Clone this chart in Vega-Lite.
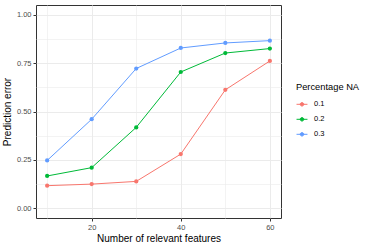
{
  "$schema": "https://vega.github.io/schema/vega-lite/v6.json",
  "width": 245,
  "height": 213,
  "autosize": "none",
  "padding": {"left": 36, "top": 5, "right": 87, "bottom": 28},
  "background": "white",
  "config": {
    "font": "Liberation Sans",
    "view": {"stroke": "#333333", "strokeWidth": 1},
    "axis": {
      "domain": false,
      "gridColor": "#ebebeb",
      "tickColor": "#333333",
      "tickSize": 3,
      "labelColor": "#4d4d4d",
      "labelFontSize": 7.5,
      "titleFontSize": 10,
      "titleFontWeight": "normal",
      "titleColor": "#000000"
    }
  },
  "data": {
    "values": [
      {"n": 10, "err": 0.117, "pct": "0.1"},
      {"n": 20, "err": 0.125, "pct": "0.1"},
      {"n": 30, "err": 0.139, "pct": "0.1"},
      {"n": 40, "err": 0.280, "pct": "0.1"},
      {"n": 50, "err": 0.612, "pct": "0.1"},
      {"n": 60, "err": 0.761, "pct": "0.1"},
      {"n": 10, "err": 0.167, "pct": "0.2"},
      {"n": 20, "err": 0.210, "pct": "0.2"},
      {"n": 30, "err": 0.418, "pct": "0.2"},
      {"n": 40, "err": 0.704, "pct": "0.2"},
      {"n": 50, "err": 0.802, "pct": "0.2"},
      {"n": 60, "err": 0.825, "pct": "0.2"},
      {"n": 10, "err": 0.247, "pct": "0.3"},
      {"n": 20, "err": 0.460, "pct": "0.3"},
      {"n": 30, "err": 0.722, "pct": "0.3"},
      {"n": 40, "err": 0.828, "pct": "0.3"},
      {"n": 50, "err": 0.854, "pct": "0.3"},
      {"n": 60, "err": 0.866, "pct": "0.3"}
    ]
  },
  "encoding": {
    "x": {
      "field": "n", "type": "quantitative",
      "scale": {"domain": [7.5, 62.5], "nice": false, "zero": false},
      "axis": {
        "values": [10, 20, 30, 40, 50, 60],
        "labelExpr": "datum.value % 20 == 0 ? datum.label : ''",
        "tickOpacity": {"condition": {"test": "datum.value % 20 == 0", "value": 1}, "value": 0},
        "gridWidth": {"condition": {"test": "datum.value % 20 == 0", "value": 1}, "value": 0.6},
        "title": "Number of relevant features",
        "titlePadding": 3,
        "labelPadding": 2
      }
    },
    "y": {
      "field": "err", "type": "quantitative",
      "scale": {"domain": [-0.05, 1.05], "nice": false, "zero": false},
      "axis": {
        "values": [0, 0.125, 0.25, 0.375, 0.5, 0.625, 0.75, 0.875, 1],
        "format": ".2f",
        "labelExpr": "(datum.value * 4) % 1 == 0 ? datum.label : ''",
        "tickOpacity": {"condition": {"test": "(datum.value * 4) % 1 == 0", "value": 1}, "value": 0},
        "gridWidth": {"condition": {"test": "(datum.value * 4) % 1 == 0", "value": 1}, "value": 0.6},
        "title": "Prediction error",
        "titlePadding": 4,
        "labelPadding": 2
      }
    },
    "color": {
      "field": "pct", "type": "nominal",
      "scale": {"domain": ["0.1", "0.2", "0.3"], "range": ["#F8766D", "#00BA38", "#619CFF"]},
      "legend": {
        "title": "Percentage NA",
        "titleFontSize": 9.3,
        "titleFontWeight": "normal",
        "titleColor": "#000000",
        "labelFontSize": 7.5,
        "labelColor": "#000000",
        "orient": "none",
        "legendX": 260,
        "legendY": 78,
        "symbolType": "M-1,0H1M-0.32,0A0.32,0.32 0 1,1 0.32,0A0.32,0.32 0 1,1 -0.32,0Z",
        "symbolSize": 120,
        "symbolStrokeWidth": 1,
        "rowPadding": 5,
        "titlePadding": 6,
        "labelOffset": 6,
        "encode": {
          "symbols": {"update": {"stroke": {"scale": "color", "field": "value"}, "fill": {"scale": "color", "field": "value"}, "opacity": {"value": 1}}}
        }
      }
    }
  },
  "layer": [
    {"mark": {"type": "line", "strokeWidth": 1}},
    {"mark": {"type": "point", "filled": true, "size": 18, "opacity": 1}}
  ]
}
